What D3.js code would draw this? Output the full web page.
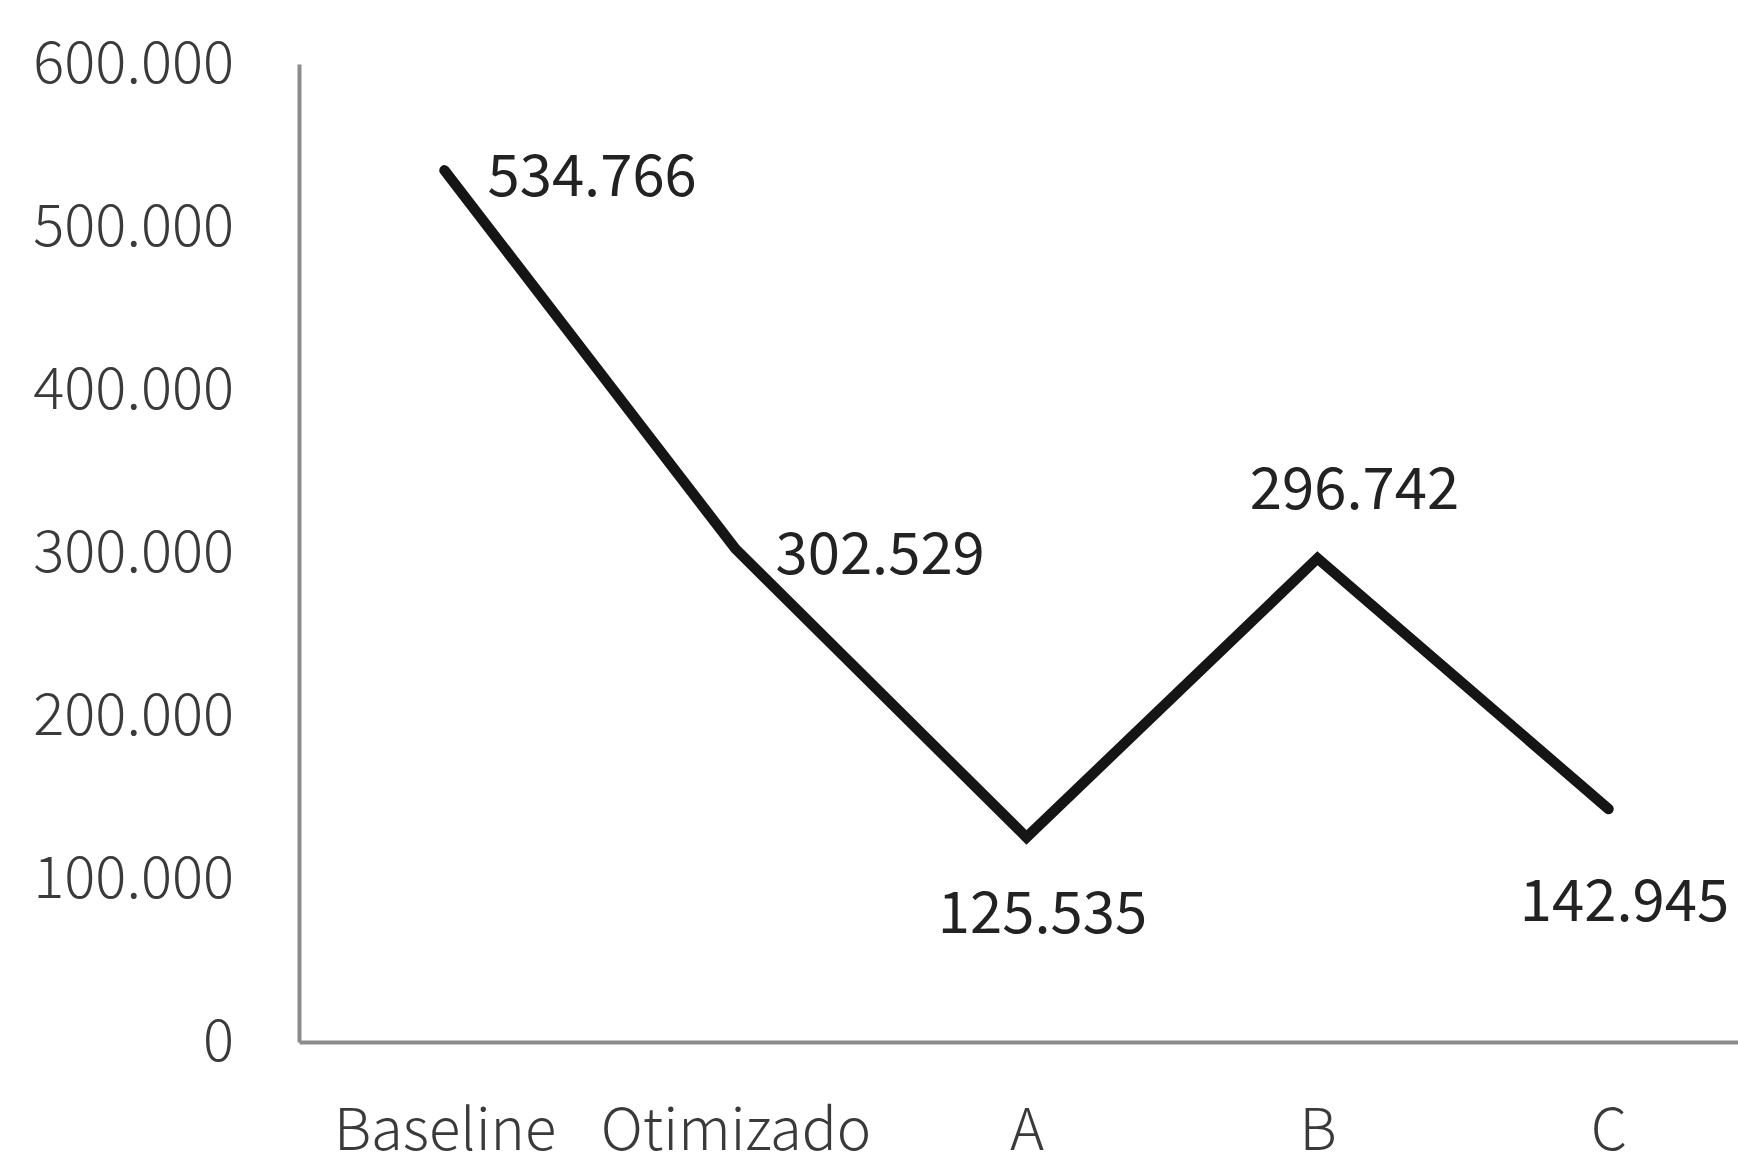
<!DOCTYPE html>
<html>
<head>
<meta charset="utf-8">
<script src="https://cdn.jsdelivr.net/npm/d3@7"></script>
<style>
  html, body { margin: 0; padding: 0; background: #fff; }
  svg { display: block; }
</style>
</head>
<body>
<svg id="chart" width="1738" height="1168"></svg>
<script>
// Chart data
const categories = ["Baseline", "Otimizado", "A", "B", "C"];
const values = [534766, 302529, 125535, 296742, 142945];
const yTicks = [0, 100000, 200000, 300000, 400000, 500000, 600000];

// Label nudges per point: [dx, dy, anchor]
const labelPlacement = [
  [43, 5, "start"],
  [40, 5, "start"],
  [16, 75, "middle"],
  [37, -70, "middle"],
  [16, 92, "middle"]
];

const svg = d3.select("#chart");
const font = "'Noto Sans CJK SC', 'Noto Sans', sans-serif";

const locale = d3.formatLocale({ decimal: ",", thousands: ".", grouping: [3], currency: ["", ""] });
const fmt = locale.format(",d");

const plot = { left: 299, right: 1754, top: 64, bottom: 1042 };

const x = d3.scalePoint().domain(categories).range([plot.left, plot.right]).padding(0.5);
const y = d3.scaleLinear().domain([0, 600000]).range([plot.bottom, plot.top]);

// Y axis
const yAxis = svg.append("g")
  .attr("transform", `translate(${plot.left},0)`)
  .call(d3.axisLeft(y).tickValues(yTicks).tickFormat(fmt).tickSize(0).tickPadding(65));
yAxis.select(".domain").attr("stroke", "#8c8c8c").attr("stroke-width", 4);
yAxis.selectAll("text")
  .attr("font-family", font).attr("font-weight", 300)
  .attr("font-size", 58).attr("fill", "#3a3a3a");

// X axis
const xAxis = svg.append("g")
  .attr("transform", `translate(0,${plot.bottom})`)
  .call(d3.axisBottom(x).tickSize(0).tickPadding(67));
xAxis.select(".domain").attr("stroke", "#8c8c8c").attr("stroke-width", 4);
xAxis.selectAll("text")
  .attr("font-family", font).attr("font-weight", 300)
  .attr("font-size", 58).attr("fill", "#3a3a3a");

// Line
const line = d3.line()
  .x((d, i) => x(categories[i]))
  .y(d => y(d));

svg.append("path")
  .datum(values)
  .attr("d", line)
  .attr("fill", "none")
  .attr("stroke", "#151515")
  .attr("stroke-width", 10.5)
  .attr("stroke-linecap", "round")
  .attr("stroke-linejoin", "miter");

// Data labels
svg.append("g").selectAll("text")
  .data(values)
  .join("text")
  .attr("x", (d, i) => x(categories[i]) + labelPlacement[i][0])
  .attr("y", (d, i) => y(d) + labelPlacement[i][1])
  .attr("dy", "0.35em")
  .attr("text-anchor", (d, i) => labelPlacement[i][2])
  .attr("font-family", font)
  .attr("font-weight", 400)
  .attr("font-size", 58)
  .attr("fill", "#222")
  .text(d => fmt(d));
</script>
</body>
</html>
